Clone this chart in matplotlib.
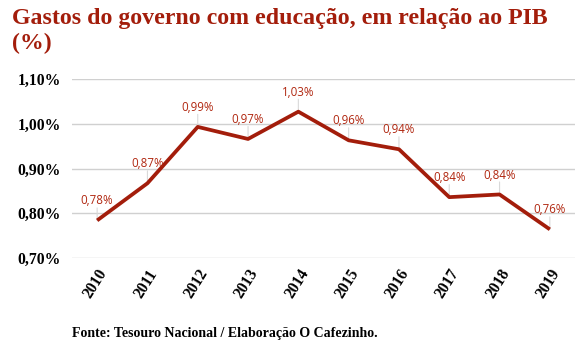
import matplotlib
matplotlib.use("Agg")
import matplotlib.pyplot as plt

# gastos com educação (% do PIB)
anos = ["2010", "2011", "2012", "2013", "2014", "2015", "2016", "2017", "2018", "2019"]
valores = [0.784, 0.867, 0.993, 0.966, 1.027, 0.963, 0.943, 0.836, 0.842, 0.764]
yticks = [0.70, 0.80, 0.90, 1.00, 1.10]

vermelho = "#A31D0B"
serifa = "Liberation Serif"

fig = plt.figure(figsize=(5.86, 3.49), dpi=100)
ax = fig.add_axes([72 / 586, 1 - 258 / 349, 503 / 586, 179 / 349])

x = list(range(len(anos)))
ax.plot(x, valores, color=vermelho, lw=2.7, solid_capstyle="butt", zorder=3)

for xi, v in zip(x, valores):
    # linha guia do ponto até o rótulo
    ax.annotate("", xy=(xi, v), xytext=(0, 9), textcoords="offset points",
                arrowprops=dict(arrowstyle="-", color="#d9d9d9", lw=0.8,
                                shrinkA=0, shrinkB=0), zorder=2)
    ax.annotate(f"{v:.2f}%".replace(".", ","), xy=(xi, v), xytext=(0, 14),
                textcoords="offset points", ha="center", va="center",
                color="#B0260F", fontsize=8.3, family="Open Sans", zorder=4)

ax.set_xlim(-0.5, len(anos) - 0.5)
ax.set_ylim(0.70, 1.10)
ax.set_yticks(yticks)
ax.set_yticklabels([f"{t:.2f}%".replace(".", ",") for t in yticks],
                   family=serifa, fontweight="bold", fontsize=11.3)
ax.set_xticks(x)
ax.set_xticklabels(anos, rotation=58, ha="right", rotation_mode="anchor",
                   family=serifa, fontweight="bold", fontsize=11.3)
ax.tick_params(length=0, pad=8)
ax.tick_params(axis="x", pad=6)
ax.grid(axis="y", color="#d0d0d0", lw=1)
ax.set_axisbelow(True)
for s in ax.spines.values():
    s.set_visible(False)

fig.text(12 / 586, 1 - 8 / 349, "Gastos do governo com educação, em relação ao PIB\n(%)",
         ha="left", va="top", color=vermelho, family=serifa, fontweight="bold",
         fontsize=17.2, linespacing=1.25)
fig.text(72 / 586, 1 - 334 / 349, "Fonte: Tesouro Nacional / Elaboração O Cafezinho.",
         ha="left", va="center", family=serifa, fontweight="bold", fontsize=10)

fig.savefig("out.png", dpi=100)
